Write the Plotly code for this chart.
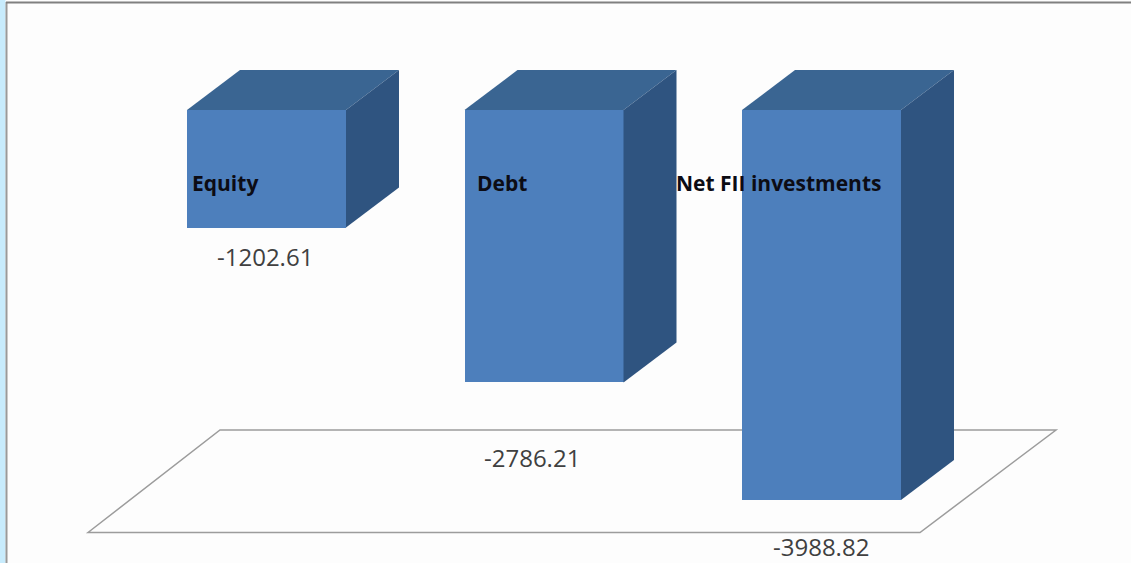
import plotly.graph_objects as go

# --- data ---
categories = ["Equity", "Debt", "Net FII investments"]
values = [-1202.61, -2786.21, -3988.82]
value_labels = ["-1202.61", "-2786.21", "-3988.82"]

# --- layout constants (pixel geometry of the 1131x563 page) ---
W, H = 1131, 563
PX_PER_CAT = 277.5
PX_FIRST = 266.5
PX_PER_UNIT = 0.0978
PX_ZERO = 110
BAR_W = 159 / PX_PER_CAT
DEPTH_X = 53 / PX_PER_CAT
DEPTH_Y = 40 / PX_PER_UNIT

def xp(px):
    return (px - PX_FIRST) / PX_PER_CAT

def yp(py):
    return (PX_ZERO - py) / PX_PER_UNIT

FRONT = "#4d7fbc"
TOP = "#3a6592"
SIDE = "#2f5480"
positions = list(range(len(categories)))

fig = go.Figure()

# front faces
fig.add_trace(go.Bar(x=positions, y=values, width=BAR_W, marker=dict(color=FRONT, line=dict(width=0)),
                     showlegend=False, hoverinfo="skip"))

# top and side faces derived from the values
for p, v in zip(positions, values):
    l, r = p - BAR_W / 2, p + BAR_W / 2
    fig.add_trace(go.Scatter(x=[l, r, r + DEPTH_X, l + DEPTH_X, l], y=[0, 0, DEPTH_Y, DEPTH_Y, 0],
                             mode="lines", fill="toself", fillcolor=TOP, line=dict(width=0),
                             showlegend=False, hoverinfo="skip"))
    fig.add_trace(go.Scatter(x=[r, r + DEPTH_X, r + DEPTH_X, r, r], y=[0, DEPTH_Y, v + DEPTH_Y, v, 0],
                             mode="lines", fill="toself", fillcolor=SIDE, line=dict(width=0),
                             showlegend=False, hoverinfo="skip"))

# category labels sitting on the bars
cat_label_px = [(190, "left"), (475, "left"), (778.5, "center")]
for name, (px, anchor) in zip(categories, cat_label_px):
    fig.add_annotation(x=xp(px), y=yp(183), text=f"<b>{name}</b>", showarrow=False, xanchor=anchor, yanchor="middle",
                       font=dict(family="Open Sans", size=21, color="#0c0c14"), xshift=0)

# value labels
val_label_px = [(265, 256), (532, 457), (821, 546)]
for lab, (px, py) in zip(value_labels, val_label_px):
    fig.add_annotation(x=xp(px), y=yp(py), text=lab, showarrow=False, xanchor="center", yanchor="middle",
                       font=dict(family="Open Sans", size=24, color="#404040"))

shapes = [
    # floor of the 3-D chart
    dict(type="path", layer="below", xref="x", yref="y",
         path=f"M {xp(88)} {yp(532.5)} L {xp(220)} {yp(430)} L {xp(1056)} {yp(430)} L {xp(920)} {yp(532.5)} Z",
         line=dict(color="#9c9c9c", width=1.5), fillcolor="rgba(0,0,0,0)"),
    # window chrome
    dict(type="rect", layer="below", xref="paper", yref="paper", x0=0, x1=5.5 / W, y0=0, y1=1,
         fillcolor="#c8ecfd", line=dict(width=0)),
    dict(type="line", layer="below", xref="paper", yref="paper", x0=6.5 / W, x1=6.5 / W, y0=0, y1=1 - 2 / H,
         line=dict(color="#9a9a9a", width=2)),
    dict(type="line", layer="below", xref="paper", yref="paper", x0=6 / W, x1=1, y0=1 - 2.5 / H, y1=1 - 2.5 / H,
         line=dict(color="#808080", width=2)),
]

fig.update_layout(
    width=W, height=H, margin=dict(l=0, r=0, t=0, b=0),
    paper_bgcolor="#fdfdfd", plot_bgcolor="rgba(0,0,0,0)",
    xaxis=dict(visible=False, range=[xp(0), xp(W)], fixedrange=True),
    yaxis=dict(visible=False, range=[yp(H), yp(0)], fixedrange=True),
    shapes=shapes, barmode="overlay", bargap=0,
)

fig.write_html("out.html", config={"displayModeBar": False},
               post_script="document.body.style.margin='0';document.body.style.background='#fdfdfd';")
